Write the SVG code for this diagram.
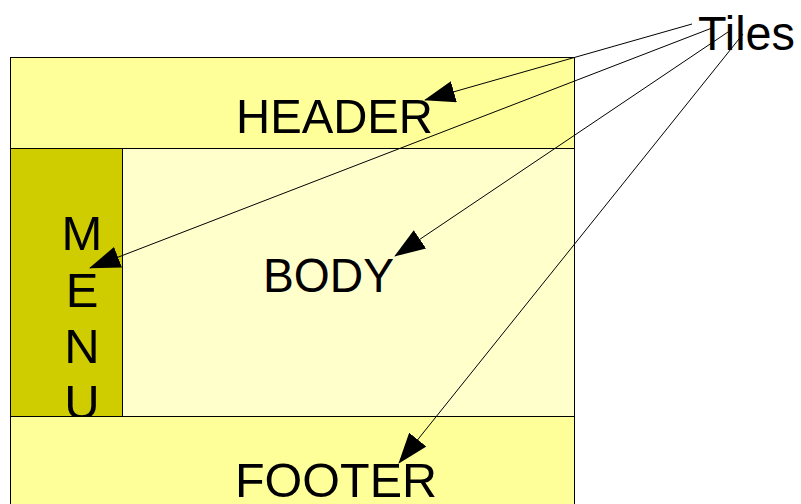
<svg xmlns="http://www.w3.org/2000/svg" width="801" height="504" viewBox="0 0 801 504">
<style>
.tile{stroke:#000;stroke-width:1}
.lbl{font-family:"Liberation Sans",Arial,sans-serif;font-size:49px;fill:#000}
.conn{stroke:#000;stroke-width:1;fill:none;marker-end:url(#arr)}
</style>
<defs>
<marker id="arr" markerUnits="userSpaceOnUse" markerWidth="31" markerHeight="22" viewBox="0 0 31 22" refX="30" refY="11" orient="auto">
<path d="M31,11 L0,0 L0,22 z" fill="#000"/>
</marker>
</defs>
<rect width="801" height="504" fill="#fff"/>
<g id="header">
<rect class="tile" x="10.5" y="57.5" width="564" height="91" fill="#ffff99"/>
<text class="lbl" x="236" y="133" textLength="197" lengthAdjust="spacingAndGlyphs">HEADER</text>
</g>
<g id="menu">
<rect class="tile" x="10.5" y="148.5" width="112" height="268" fill="#cfcc00"/>
<text class="lbl" text-anchor="middle"><tspan x="82" y="250">M</tspan><tspan x="82" y="306.5">E</tspan><tspan x="82" y="363">N</tspan><tspan x="82" y="419">U</tspan></text>
</g>
<g id="body">
<rect class="tile" x="122.5" y="148.5" width="452" height="268" fill="#ffffcc"/>
<text class="lbl" x="263" y="292" textLength="131" lengthAdjust="spacingAndGlyphs">BODY</text>
</g>
<g id="footer">
<rect class="tile" x="10.5" y="416.5" width="564" height="120" fill="#ffff99"/>
<text class="lbl" x="235" y="497" textLength="202" lengthAdjust="spacingAndGlyphs">FOOTER</text>
</g>
<g id="tiles">
<text class="lbl" x="698" y="50" textLength="97" lengthAdjust="spacingAndGlyphs">Tiles</text>
</g>
<g id="connectors">
<line class="conn" x1="692" y1="24" x2="425" y2="100"/>
<line class="conn" x1="712" y1="28" x2="90" y2="268"/>
<line class="conn" x1="728" y1="32" x2="395" y2="256"/>
<line class="conn" x1="743" y1="34" x2="399" y2="463"/>
</g>
</svg>
